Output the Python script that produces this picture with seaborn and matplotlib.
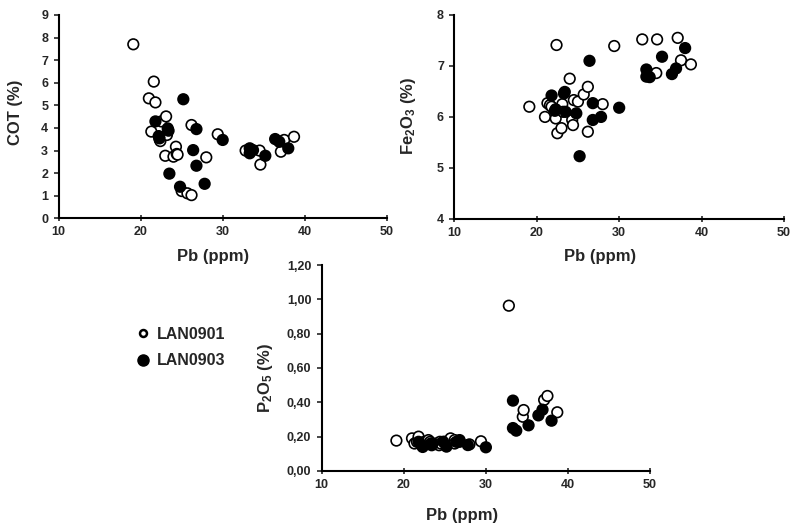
import matplotlib
matplotlib.use("Agg")
import matplotlib.pyplot as plt
from matplotlib.lines import Line2D
from matplotlib.ticker import FuncFormatter
import seaborn as sns
import pandas as pd

# LAN0901 (open circles)
pb_901 = [19.1, 21.0, 21.3, 21.6, 21.8, 22.3, 22.4, 22.5, 23.0, 23.1, 23.2, 24.0, 24.3, 24.4,
          24.5, 25.0, 25.7, 26.2, 26.2, 28.0, 29.4, 32.8, 34.5, 34.6, 37.1, 37.5, 38.7]
cot_901 = [7.70, 5.31, 3.84, 6.05, 5.13, 3.50, 3.42, 4.29, 2.77, 4.51, 3.69, 2.73, 3.17, 2.85,
           2.82, 1.21, 1.11, 1.03, 4.13, 2.70, 3.72, 3.00, 3.00, 2.38, 2.95, 3.47, 3.61]
fe_901 = [6.20, 6.00, 6.27, 6.23, 6.20, 5.97, 7.41, 5.68, 5.78, 6.25, 6.10, 6.75, 5.94, 5.84,
          6.33, 6.30, 6.44, 6.59, 5.71, 6.25, 7.39, 7.52, 6.86, 7.52, 7.55, 7.11, 7.03]
p_901 = [0.177, 0.19, 0.16, 0.17, 0.20, 0.16, 0.15, 0.17, 0.18, 0.16, 0.17, 0.16, 0.15, 0.17,
         0.16, 0.17, 0.19, 0.18, 0.16, 0.155, 0.173, 0.963, 0.316, 0.355, 0.414, 0.437, 0.342]

# LAN0903 (filled circles)
pb_903 = [21.8, 22.2, 22.3, 23.3, 23.4, 23.5, 24.8, 25.2, 26.4, 26.8, 26.8, 27.8, 30.0,
          33.3, 33.3, 33.7, 35.2, 36.4, 36.9, 38.0]
cot_903 = [4.29, 3.64, 3.54, 3.98, 3.88, 1.98, 1.40, 5.27, 3.02, 3.95, 2.33, 1.53, 3.47,
           3.10, 2.88, 3.02, 2.77, 3.51, 3.39, 3.10]
fe_903 = [6.42, 6.12, 6.15, 6.46, 6.49, 6.10, 6.07, 5.23, 7.10, 6.27, 5.94, 6.00, 6.18,
          6.93, 6.79, 6.78, 7.18, 6.84, 6.95, 7.35]
p_903 = [0.17, 0.15, 0.14, 0.16, 0.15, 0.16, 0.17, 0.142, 0.17, 0.18, 0.17, 0.151, 0.138,
         0.25, 0.41, 0.235, 0.266, 0.324, 0.357, 0.293]

df = pd.concat([
    pd.DataFrame({"Pb": pb_901, "COT": cot_901, "Fe2O3": fe_901, "P2O5": p_901, "core": "LAN0901"}),
    pd.DataFrame({"Pb": pb_903, "COT": cot_903, "Fe2O3": fe_903, "P2O5": p_903, "core": "LAN0903"}),
], ignore_index=True)

sns.set_style("ticks")
plt.rcParams['font.family'] = ['Liberation Sans', 'DejaVu Sans']
plt.rcParams['font.weight'] = 'bold'
plt.rcParams['mathtext.fontset'] = 'custom'
plt.rcParams['mathtext.rm'] = 'Liberation Sans:bold'
plt.rcParams['mathtext.it'] = 'Liberation Sans:bold'
plt.rcParams['mathtext.bf'] = 'Liberation Sans:bold'
plt.rcParams['mathtext.default'] = 'rm'

pal = {"LAN0901": "white", "LAN0903": "black"}

fig = plt.figure(figsize=(7.93, 5.25), dpi=100)
ax1 = fig.add_axes([0.074, 0.584, 0.4136, 0.3876])
ax2 = fig.add_axes([0.5729, 0.583, 0.4158, 0.3886])
ax3 = fig.add_axes([0.4057, 0.1029, 0.414, 0.3923])

# ax, column, y label, y range, y ticks, ylabel coords, xlabel coords
panels = [
    (ax1, "COT", "COT (%)", (0, 9), list(range(0, 10)), (-0.108, 0.523), (0.472, -0.148)),
    (ax2, "Fe2O3", r"Fe$_2$O$_3$ (%)", (4, 8), [4, 5, 6, 7, 8], (-0.110, 0.505), (0.442, -0.145)),
    (ax3, "P2O5", r"P$_2$O$_5$ (%)", (0, 1.2), [0, 0.2, 0.4, 0.6, 0.8, 1.0, 1.2], (-0.142, 0.45), (0.427, -0.178)),
]

for ax, col, ylab, ylim, yticks, ylc, xlc in panels:
    sns.scatterplot(data=df, x="Pb", y=col, hue="core", palette=pal, edgecolor="black",
                    linewidth=1.2, s=58, ax=ax, legend=False, zorder=3)
    ax.set_xlim(10, 50)
    ax.set_ylim(*ylim)
    ax.set_xticks([10, 20, 30, 40, 50])
    ax.set_yticks(yticks)
    sns.despine(ax=ax)
    for sp in ["left", "bottom"]:
        ax.spines[sp].set_linewidth(1.5)
        ax.spines[sp].set_color("black")
    ax.tick_params(axis="x", direction="inout", length=5, width=1.2, labelsize=9, pad=3)
    ax.tick_params(axis="y", direction="out", length=3.5, width=1.2, labelsize=9, pad=4)
    ax.set_ylabel(ylab, fontsize=12, fontweight="bold")
    ax.set_xlabel("Pb (ppm)", fontsize=12, fontweight="bold")
    ax.yaxis.set_label_coords(*ylc)
    ax.xaxis.set_label_coords(*xlc)

ax3.yaxis.set_major_formatter(FuncFormatter(lambda v, p: f"{v:.2f}".replace(".", ",")))

handles = [
    Line2D([], [], ls="none", marker="o", markersize=5, markerfacecolor="white",
           markeredgecolor="black", markeredgewidth=1.8),
    Line2D([], [], ls="none", marker="o", markersize=8, markerfacecolor="black",
           markeredgecolor="black"),
]
fig.legend(handles, ["LAN0901", "LAN0903"], loc="center left", bbox_to_anchor=(0.154, 0.338),
           frameon=False, handlelength=0.8, handletextpad=0.5, borderpad=0.4,
           labelspacing=0.7, prop={"weight": "bold", "size": 11.5})

fig.savefig("out.png", dpi=100)
